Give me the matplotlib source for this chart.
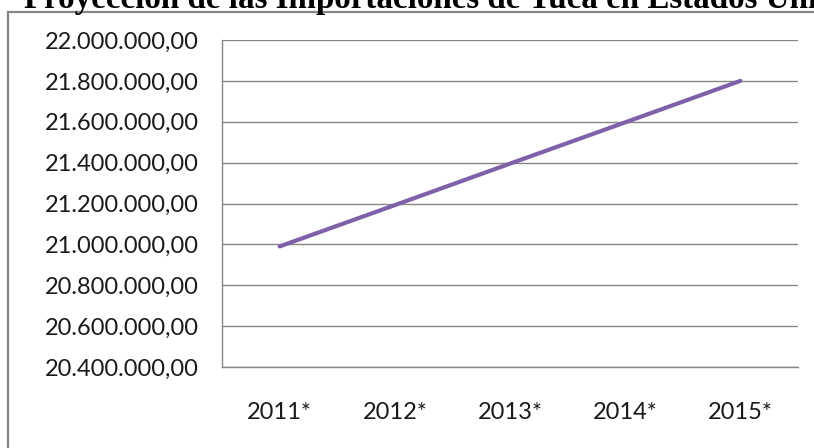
import matplotlib
matplotlib.use("Agg")
import matplotlib.pyplot as plt
from matplotlib.patches import Rectangle
from matplotlib.ticker import FuncFormatter, MultipleLocator

# data
years = ["2011*", "2012*", "2013*", "2014*", "2015*"]
imports = [20990000, 21192000, 21395000, 21597000, 21800000]

title = "Proyección de las Importaciones de Yuca en Estados Unidos"

W, H = 814, 448
dpi = 100
grey = "#868686"


def es_format(v, pos):
    s = "{:,.2f}".format(v)
    return s.replace(",", "X").replace(".", ",").replace("X", ".")


fig = plt.figure(figsize=(W / dpi, H / dpi), dpi=dpi)

# outer chart border (clipped on right and bottom)
fig.patches.append(Rectangle((8 / W, -0.1), 1.2, 1 - 12 / H + 0.1,
                             transform=fig.transFigure, fill=False,
                             edgecolor=grey, linewidth=1.6))

# title, partly cut off at the top and right like the source
fig.text(24 / W, 1 - 8 / H, title, ha="left", va="baseline",
         fontfamily="Liberation Serif", fontweight="bold", fontsize=23.8)

ax = fig.add_axes([222 / W, (H - 367) / H, 576 / W, 327 / H])
x = range(len(years))
ax.plot(x, imports, color="#7F61A9", linewidth=3.0, solid_capstyle="round")

ax.set_xlim(-0.5, len(years) - 0.5)
ax.set_ylim(20400000, 22000000)
ax.yaxis.set_major_locator(MultipleLocator(200000))
ax.yaxis.set_major_formatter(FuncFormatter(es_format))
ax.set_xticks(list(x))
ax.set_xticklabels(years)

ax.grid(axis="y", color=grey, linewidth=1.0)
ax.set_axisbelow(True)
for side in ["top", "right"]:
    ax.spines[side].set_visible(False)
for side in ["left", "bottom"]:
    ax.spines[side].set_color(grey)
    ax.spines[side].set_linewidth(1.0)

ax.tick_params(axis="both", length=0, labelsize=17, colors="#1a1a1a")
ax.tick_params(axis="y", pad=17)
ax.tick_params(axis="x", pad=25)
for lbl in ax.get_xticklabels() + ax.get_yticklabels():
    lbl.set_fontfamily("Lato")

fig.savefig("out.png", dpi=dpi)
